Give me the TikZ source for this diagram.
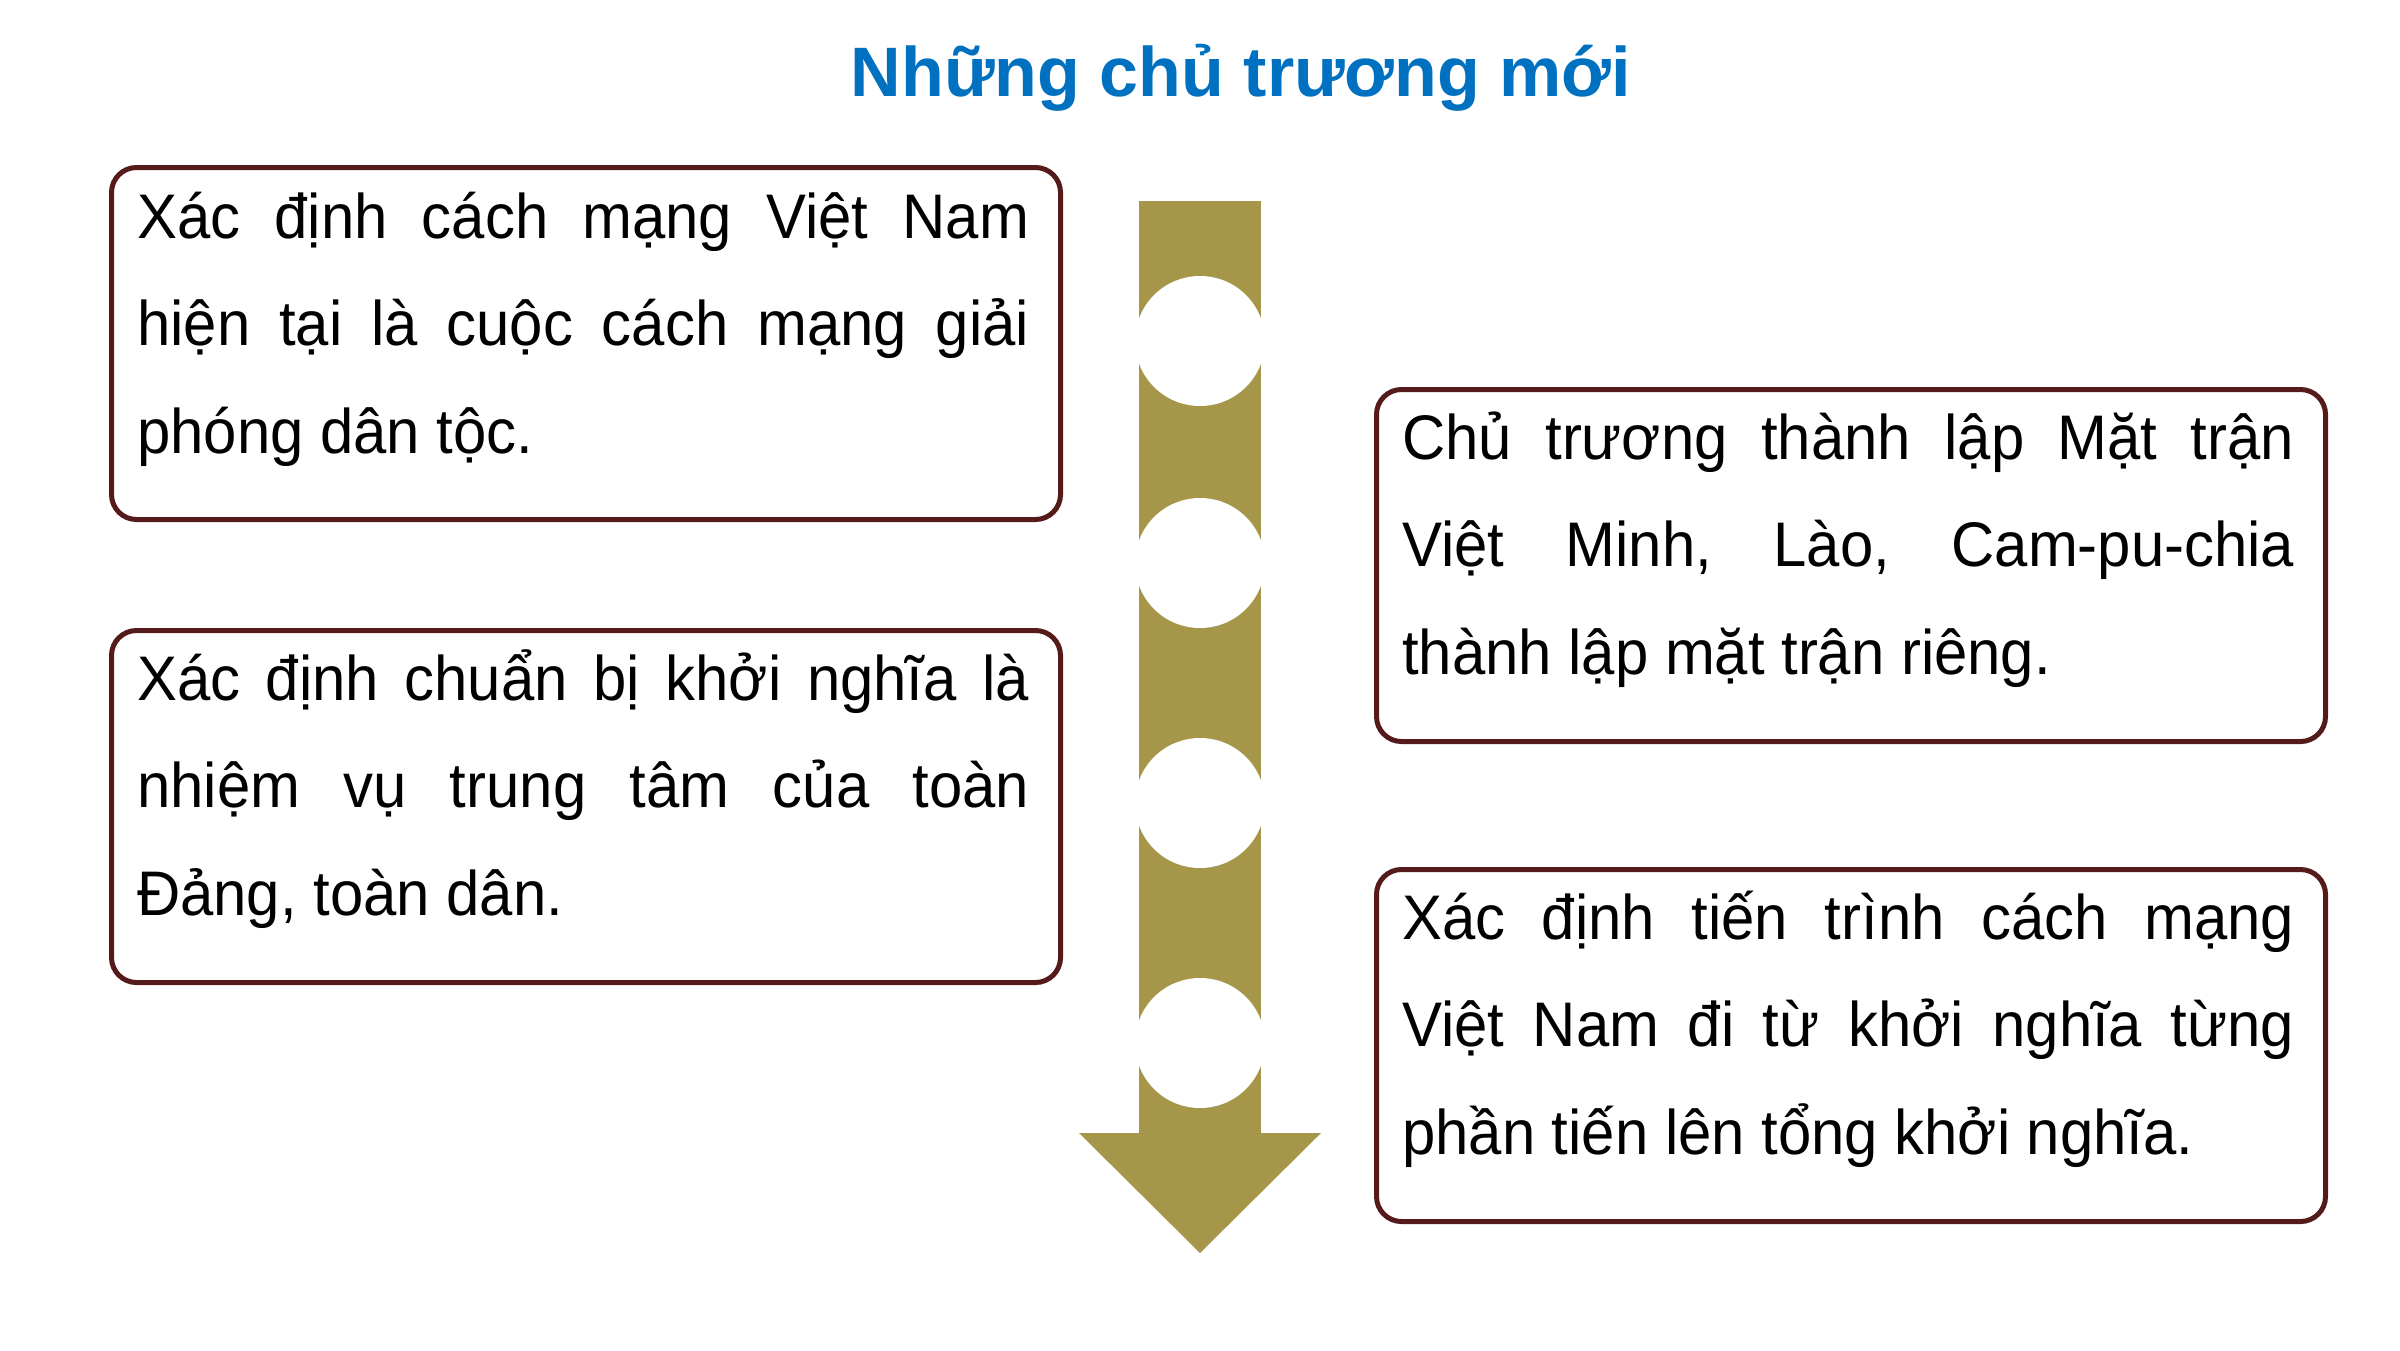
\documentclass[tikz,border=0pt]{standalone}
\usepackage{fontspec}
\setmainfont{Liberation Sans}
\newfontfamily\cardfont[FakeStretch=0.95]{Liberation Sans}
\definecolor{olive}{HTML}{A69649}
\definecolor{boxline}{HTML}{551A1A}
\definecolor{titleblue}{HTML}{0070C0}
\begin{document}
\begin{tikzpicture}[x=1pt,y=-1pt,
  card/.style={draw=boxline, line width=5pt, rounded corners=25pt, fill=white,
    inner sep=0pt, minimum width=949pt, minimum height=352pt, anchor=north west},
  cardtext/.style={anchor=base west, inner sep=0pt,
    font=\cardfont\fontsize{63pt}{107.5pt}\selectfont},
  hole/.style={fill=white, draw=none}]
\useasboundingbox[fill=white] (0,0) rectangle (2400,1350);
\newcommand{\cardpar}[1]{\parbox[t]{892pt}{\frenchspacing\hyphenpenalty=10000 \exhyphenpenalty=10000 \tolerance=10000 #1}}

% title
\node[anchor=base, inner sep=0pt, text=titleblue,
  font=\fontsize{70pt}{84pt}\selectfont\bfseries] (title) at (1241,96) {Những chủ trương mới};

% arrow
\fill[olive] (1139,201) rectangle (1261,1134);
\fill[olive] (1079,1133) -- (1321,1133) -- (1200,1253) -- cycle;
\node[hole, circle, minimum size=130pt, inner sep=0pt] (c1) at (1200,341) {};
\node[hole, circle, minimum size=130pt, inner sep=0pt] (c2) at (1200,563) {};
\node[hole, circle, minimum size=130pt, inner sep=0pt] (c3) at (1200,803) {};
\node[hole, circle, minimum size=130pt, inner sep=0pt] (c4) at (1200,1043) {};

% boxes
\node[card] (b1) at (109,165) {};
\node[card] (b2) at (109,628) {};
\node[card] (b3) at (1374,387) {};
\node[card] (b4) at (1374,867) {};

% texts
\node[cardtext] (t1) at (137,238) {\cardpar{Xác định cách mạng Việt Nam\linebreak hiện tại là cuộc cách mạng giải\linebreak phóng dân tộc.}};
\node[cardtext] (t2) at (137,700) {\cardpar{Xác định chuẩn bị khởi nghĩa là\linebreak nhiệm vụ trung tâm của toàn\linebreak Đảng, toàn dân.}};
\node[cardtext] (t3) at (1402,459) {\cardpar{Chủ trương thành lập Mặt trận\linebreak Việt Minh, Lào, Cam-pu-chia\linebreak thành lập mặt trận riêng.}};
\node[cardtext] (t4) at (1402,939) {\cardpar{Xác định tiến trình cách mạng\linebreak Việt Nam đi từ khởi nghĩa từng\linebreak phần tiến lên tổng khởi nghĩa.}};
\end{tikzpicture}
\end{document}
